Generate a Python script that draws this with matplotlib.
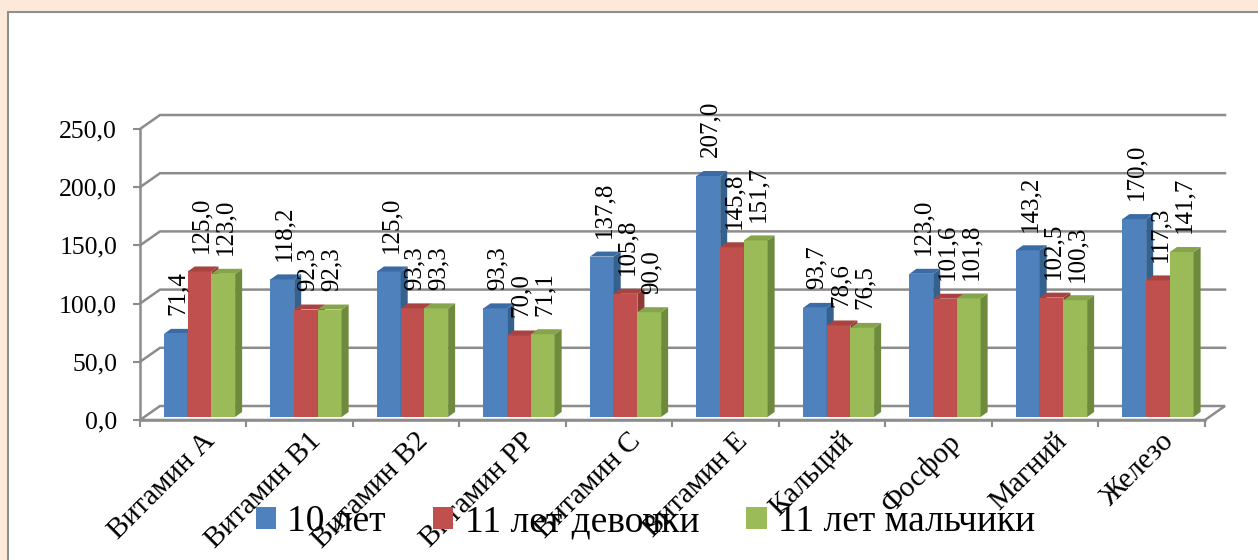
import matplotlib.pyplot as plt
from matplotlib.patches import Polygon, Patch, Rectangle

categories = ['Витамин А', 'Витамин В1', 'Витамин В2', 'Витамин РР', 'Витамин С',
              'Витамин Е', 'Кальций', 'Фосфор', 'Магний', 'Железо']
age10 = [71.4, 118.2, 125.0, 93.3, 137.8, 207.0, 93.7, 123.0, 143.2, 170.0]
girls11 = [125.0, 92.3, 93.3, 70.0, 105.8, 145.8, 78.6, 101.6, 102.5, 117.3]
boys11 = [123.0, 92.3, 93.3, 71.1, 90.0, 151.7, 76.5, 101.8, 100.3, 141.7]
series_names = ['10 лет', '11 лет девочки', '11 лет мальчики']
yticks = [0, 50, 100, 150, 200, 250]

front = ['#4F81BD', '#C0504D', '#9BBB59']
side = ['#35618F', '#8E3A37', '#6E8B3D']
top = ['#3B6BA5', '#A84341', '#86A44B']
grey = '#8C8C8C'

plt.rcParams['font.family'] = ['Liberation Serif', 'DejaVu Serif']

fig = plt.figure(figsize=(12.58, 5.6), dpi=100)
fig.patch.set_facecolor('#FCE9DA')
fig.patches.append(Rectangle((8 / 1258, -0.05), 1.1, (560 - 12) / 560 + 0.05,
                             transform=fig.transFigure, facecolor='white',
                             edgecolor='#8F8F8F', lw=1.5, zorder=-10))

ax = fig.add_axes([140 / 1258, 140 / 560, 1085 / 1258, 305 / 560])
ax.set_facecolor('none')

# perspective offsets (data units)
DX, DY = 0.188, 12.03
ax.set_xlim(0, 10 + DX)
ax.set_ylim(0, 250 + DY)

# floor
floor = Polygon([(0, 0), (10, 0), (10 + DX, DY), (DX, DY)], closed=True,
                facecolor='white', edgecolor=grey, lw=1.8, zorder=1, clip_on=False)
ax.add_patch(floor)

# back wall gridlines
for v in yticks[1:]:
    ax.plot([0, DX, 10 + DX], [v, v + DY, v + DY], color=grey, lw=1.8,
            zorder=1, clip_on=False, solid_joinstyle='miter')

# bars
off, bw, bdx, bdy, base = 0.225, 0.2227, 0.066, 4.3, 2.6
for i, vals in enumerate([age10, girls11, boys11]):
    for j, v in enumerate(vals):
        x0 = j + off + i * bw
        x1 = x0 + bw
        y0, y1 = base, base + v
        z = 3 + i
        ax.add_patch(Polygon([(x0, y0), (x1, y0), (x1, y1), (x0, y1)],
                             facecolor=front[i], edgecolor='none', zorder=z))
        ax.add_patch(Polygon([(x1, y0), (x1 + bdx, y0 + bdy), (x1 + bdx, y1 + bdy), (x1, y1)],
                             facecolor=side[i], edgecolor='none', zorder=z))
        ax.add_patch(Polygon([(x0, y1), (x1, y1), (x1 + bdx, y1 + bdy), (x0 + bdx, y1 + bdy)],
                             facecolor=top[i], edgecolor='none', zorder=z))
        ax.text((x0 + x1) / 2 + 0.02, y1 + 16, f'{v:.1f}'.replace('.', ','),
                rotation=90, ha='center', va='bottom', fontsize=18, zorder=10)

# axes
for s in ['top', 'right']:
    ax.spines[s].set_visible(False)
ax.spines['left'].set_bounds(0, 250)
ax.spines['bottom'].set_bounds(0, 10)
for s in ['left', 'bottom']:
    ax.spines[s].set_color(grey)
    ax.spines[s].set_linewidth(1.8)
    ax.spines[s].set_zorder(2)
ax.set_yticks(yticks)
ax.set_yticklabels([f'{v:.1f}'.replace('.', ',') for v in yticks], fontsize=18.5)
ax.set_xticks(range(11))
ax.set_xticklabels([])
ax.tick_params(axis='both', color=grey, width=1.5, length=5, direction='out')
ax.tick_params(axis='y', pad=11.5)

for j, name in enumerate(categories):
    ax.text(j + 0.58, -7, name, rotation=45, rotation_mode='anchor',
            ha='right', va='top', fontsize=21, clip_on=False)

handles = [Patch(facecolor=c, edgecolor='none') for c in front]
fig.legend(handles, series_names, loc='center', bbox_to_anchor=(0.513, 0.068),
           ncol=3, frameon=False, fontsize=27, handlelength=0.55, handleheight=0.55,
           handletextpad=0.3, columnspacing=1.25)

fig.savefig('out.png', dpi=100, facecolor=fig.get_facecolor())
